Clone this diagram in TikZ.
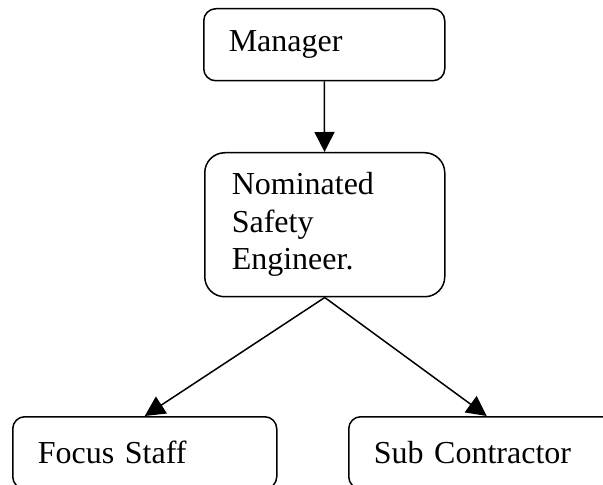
\documentclass[tikz,border=0pt]{standalone}
\usepackage{fontspec}
\setmainfont{Liberation Serif}
\usetikzlibrary{arrows.meta}

\tikzset{
  orgbox/.style={draw, line width=0.75pt, rounded corners=6pt, anchor=north west,
    align=left, inner xsep=12.5pt, inner ysep=0pt,
    font=\fontsize{16pt}{18.75pt}\selectfont},
  link/.style={line width=0.75pt, -{Triangle[width=10pt,length=10pt]}}
}

\begin{document}
\begin{tikzpicture}[x=0.5pt, y=-0.5pt]
  \useasboundingbox (0,0) rectangle (603,485);
  \clip (0,0) rectangle (603,485);
  \node[orgbox, text width=95.5pt, minimum height=36pt] (manager) at (203,8) {Manager};
  \node[orgbox, rounded corners=10pt, text width=93pt, inner xsep=13.5pt, minimum height=72pt] (nse) at (204,152) {Nominated\\Safety\\Engineer.};
  \node[orgbox, text width=107pt, minimum height=36pt] (staff) at (12,416) {Focus Staff};
  \node[orgbox, text width=113pt, minimum height=36pt] (sub) at (348,416) {Sub Contractor};
  \draw[link] (manager) -- (nse);
  \draw[link] (nse.south) -- (staff.north);
  \draw[link] (nse.south) -- (sub.north);
\end{tikzpicture}
\end{document}
